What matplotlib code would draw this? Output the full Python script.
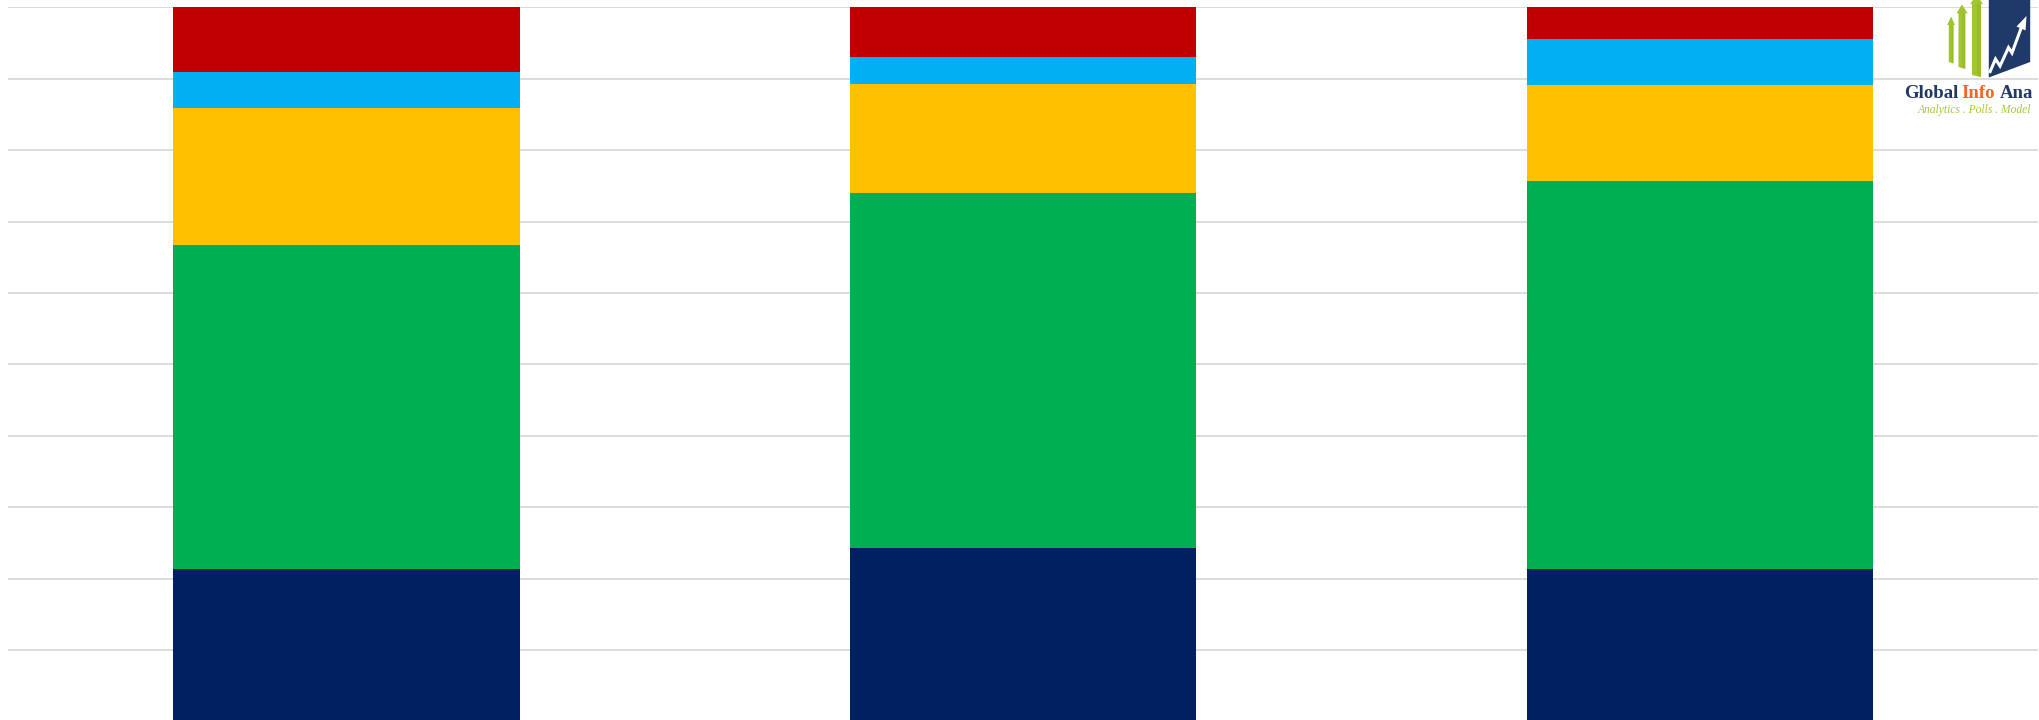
import matplotlib
matplotlib.use("Agg")
import matplotlib.pyplot as plt
from matplotlib.patches import Polygon
import numpy as np

# ---- data (percent shares, bottom to top) ----
categories = ["Poll 1", "Poll 2", "Poll 3"]
series_names = ["Series 1", "Series 2", "Series 3", "Series 4", "Series 5"]
series_navy = [21.4, 24.3, 21.4]
series_green = [45.3, 49.7, 54.3]
series_yellow = [19.2, 15.2, 13.4]
series_blue = [5.1, 3.8, 6.4]
series_red = [9.0, 7.0, 4.5]
y_ticks = list(range(0, 101, 10))

colors = ["#002060", "#00B050", "#FFC000", "#00B0F0", "#C00000"]
W, H = 2040, 720
fig = plt.figure(figsize=(W / 100, H / 100), dpi=100)
fig.patch.set_facecolor("white")

left = 8 / W
right = 2038.4 / W
top = (H - 7.3) / H
bottom = (H - 721.4) / H
ax = fig.add_axes([left, bottom, right - left, top - bottom])

x = np.arange(len(categories))
base = np.zeros(len(categories))
for vals, col in zip([series_navy, series_green, series_yellow, series_blue, series_red], colors):
    ax.bar(x, vals, width=0.512, bottom=base, color=col, edgecolor="none", zorder=3)
    base = base + np.array(vals)

ax.set_xlim(-0.5, len(categories) - 0.5)
ax.set_ylim(0, 100)
ax.set_yticks(y_ticks)
ax.set_xticks(x)
ax.tick_params(left=False, bottom=False, labelleft=False, labelbottom=False)
ax.yaxis.grid(True, color="#D9D9D9", linewidth=1.3, zorder=0)
ax.set_axisbelow(True)
for s in ax.spines.values():
    s.set_visible(False)

# ---- logo overlay (pixel coordinates) ----
lg = fig.add_axes([0, 0, 1, 1], zorder=10)
lg.set_xlim(0, W)
lg.set_ylim(H, 0)
lg.axis("off")
lg.patch.set_alpha(0)

green = "#A2C42E"
green_dark = "#8AAE1F"

def arrow(xl, xr, hl, hr, apex_y, head_base_y, bot_l, bot_r):
    xc = (xl + xr) / 2
    pts = [(xl, bot_l), (xl, head_base_y), (hl, head_base_y), (xc, apex_y),
           (hr, head_base_y), (xr, head_base_y), (xr, bot_r)]
    lg.add_patch(Polygon(pts, closed=True, facecolor=green, edgecolor="none"))
    lg.add_patch(Polygon([(xc + 0.5, head_base_y), (xr, head_base_y), (xr, bot_r), (xc + 0.5, bot_r - 1)],
                         closed=True, facecolor=green_dark, edgecolor="none", alpha=0.35))

arrow(1948.8, 1953.5, 1947.2, 1955.0, 16.5, 25, 62, 63.5)
arrow(1958.5, 1965.3, 1956.6, 1967.6, 4.5, 13.3, 67, 69)
arrow(1972.0, 1981.0, 1970.2, 1983.0, -5, 4, 75, 77)

navy_logo = "#1F3A68"
lg.add_patch(Polygon([(1988.8, 0), (2030.2, 0), (2030.2, 62), (1988.8, 77.5)],
                     closed=True, facecolor=navy_logo, edgecolor="none"))
zig = [(1989.5, 73), (1995.5, 59), (2000, 66), (2008.5, 47.5), (2012, 53), (2021.5, 27)]
lg.plot([p[0] for p in zig], [p[1] for p in zig], color="white", linewidth=2.2,
        solid_joinstyle="miter", solid_capstyle="butt")
lg.add_patch(Polygon([(2026.5, 16), (2016.5, 26.5), (2025.5, 30.5)], closed=True,
                     facecolor="white", edgecolor="none"))

txt_y = 97.7
lg.text(1904, txt_y, "Global", color="#1F3864", fontsize=13.5, fontweight="bold",
        family="Liberation Serif", va="baseline", ha="left")
lg.text(1961, txt_y, "Info", color="#F26522", fontsize=13.5, fontweight="bold",
        family="Liberation Serif", va="baseline", ha="left")
lg.text(2000, txt_y, "Ana", color="#1F3864", fontsize=13.5, fontweight="bold",
        family="Liberation Serif", va="baseline", ha="left")
lg.text(1918, 110.5, "Analytics . Polls . Model", color="#A6C83A", fontsize=8.3,
        style="italic", family="Liberation Serif", va="center", ha="left")

fig.savefig("out.png", dpi=100, facecolor="white")
